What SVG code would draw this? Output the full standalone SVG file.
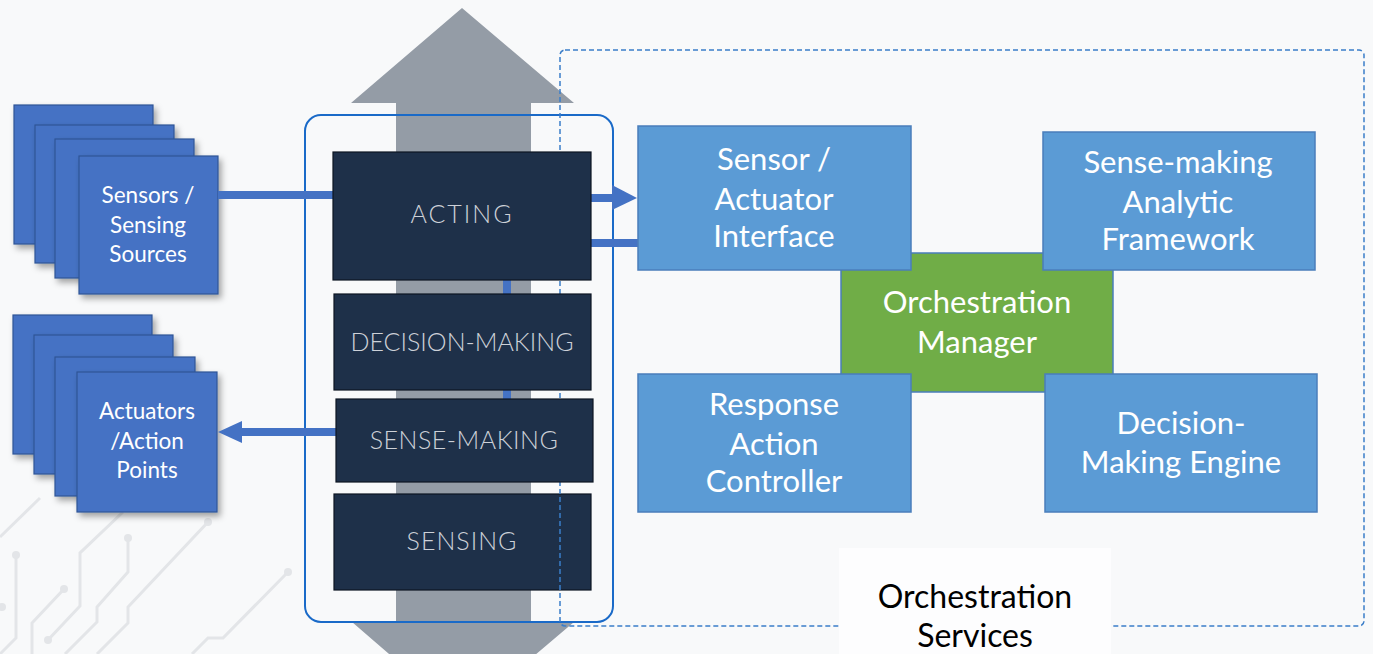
<svg xmlns="http://www.w3.org/2000/svg" width="1373" height="654" viewBox="0 0 1373 654">
<defs>
<style>
.bg{fill:#f8f9fa}
.trace{fill:none;stroke:#e3e5e8;stroke-width:3}
.dot{fill:#e3e5e8}
.stack{fill:#4472c4;stroke:#2f5597;stroke-width:1.2;filter:url(#sh)}
.wt{font-family:Lato,"Noto Sans",sans-serif;fill:#ffffff;text-anchor:middle}
.dark{fill:#1e3049;stroke:#0d1522;stroke-width:1.2}
.dt{font-family:Lato,"Noto Sans",sans-serif;font-weight:300;fill:#cdd1d8;font-size:25px;text-anchor:middle}
.lb{fill:#5b9bd5;stroke:#4a7ebb;stroke-width:1.5}
.gr{fill:#70ad47;stroke:#4a7ebb;stroke-width:1.5}
.bt{font-family:Lato,"Noto Sans",sans-serif;fill:#ffffff;font-size:31px;text-anchor:middle}
.conn{stroke:#4472c4;stroke-width:8;fill:none}
.head{fill:#4472c4}
</style>
<filter id="sh" x="-10%" y="-10%" width="130%" height="130%">
<feDropShadow dx="3" dy="4" stdDeviation="3" flood-color="#000" flood-opacity="0.35"/>
</filter>
</defs>
<rect class="bg" x="0" y="0" width="1373" height="654"/>
<g id="circuit-traces">
<path class="trace" d="M0 537 L40 498"/>
<path class="trace" d="M16 555 L16 638 L0 654"/>
<circle class="dot" cx="16" cy="555" r="4"/>
<circle class="dot" cx="2" cy="607" r="4"/>
<path class="trace" d="M64 589 L32 623 L32 654"/>
<circle class="dot" cx="64" cy="589" r="4"/>
<path class="trace" d="M123 512 L80 553 L80 606 L48 640"/>
<circle class="dot" cx="48" cy="640" r="4"/>
<path class="trace" d="M128 538 L128 572 L97 607 L97 622 L65 654"/>
<circle class="dot" cx="128" cy="538" r="4"/>
<path class="trace" d="M208 522 L128 607 L128 623 L97 654"/>
<circle class="dot" cx="208" cy="522" r="4"/>
<path class="trace" d="M288 572 L223 638 L208 638 L192 654"/>
<circle class="dot" cx="288" cy="572" r="4"/>
</g>
<g id="big-arrow">
<polygon fill="#949ca6" points="462,8 574,103 531,103 531,622 574,622 462,717 352,622 396,622 396,103 351,103"/>
</g>
<g id="layer-frame">
<rect x="305" y="115" width="308" height="507" rx="16" ry="16" fill="none" stroke="#1a6ac8" stroke-width="2"/>
</g>
<g id="sensors">
<rect class="stack" x="14" y="105" width="139" height="139"/>
<rect class="stack" x="35" y="125" width="139" height="138"/>
<rect class="stack" x="55" y="139" width="139" height="139"/>
<rect class="stack" x="79" y="156" width="139" height="138"/>
<text class="wt" font-size="22.5"><tspan x="148" y="203">Sensors /</tspan><tspan x="148" y="233">Sensing</tspan><tspan x="148" y="262">Sources</tspan></text>
</g>
<g id="actuators">
<rect class="stack" x="13" y="315" width="139" height="139"/>
<rect class="stack" x="34" y="335" width="139" height="139"/>
<rect class="stack" x="55" y="357" width="140" height="139"/>
<rect class="stack" x="77" y="372" width="140" height="140"/>
<text class="wt" font-size="22.5"><tspan x="147" y="419">Actuators</tspan><tspan x="147" y="449">/Action</tspan><tspan x="147" y="478">Points</tspan></text>
</g>
<g id="connectors">
<line class="conn" x1="507" y1="278" x2="507" y2="401"/>
<line class="conn" x1="218" y1="195" x2="334" y2="195"/>
<line class="conn" x1="336" y1="432" x2="240" y2="432"/>
<polygon class="head" points="218,432 242,421 242,443"/>
<line class="conn" x1="591" y1="198" x2="614" y2="198"/>
<polygon class="head" points="637,198 612,185 612,210"/>
<line class="conn" x1="591" y1="243" x2="639" y2="243"/>
</g>
<g id="sensing">
<rect class="dark" x="334" y="494" width="257" height="96"/>
<text class="dt" x="462" y="550" font-size="26" letter-spacing="1">SENSING</text>
</g>
<g id="orchestration-services">
<rect x="560" y="50" width="804" height="576" rx="5" ry="5" fill="none" stroke="#3a7dc9" stroke-width="1.5" stroke-dasharray="5,3"/>
<rect x="839" y="548" width="272" height="106" fill="#fdfdfe"/>
<text font-family="Lato,'Noto Sans',sans-serif" font-size="32" fill="#000" text-anchor="middle"><tspan x="975" y="608">Orchestration</tspan><tspan x="975" y="647">Services</tspan></text>
</g>
<g id="acting">
<rect class="dark" x="333" y="152" width="258" height="128"/>
<text class="dt" x="462" y="223" font-size="26" letter-spacing="2">ACTING</text>
</g>
<g id="decision-making">
<rect class="dark" x="334" y="294" width="257" height="96"/>
<text class="dt" x="462" y="351">DECISION-MAKING</text>
</g>
<g id="sense-making">
<rect class="dark" x="336" y="399" width="257" height="83"/>
<text class="dt" x="464" y="449" font-size="26" letter-spacing="0.5">SENSE-MAKING</text>
</g>
<g id="orchestration-manager">
<rect class="gr" x="841" y="253" width="272" height="139"/>
<text class="bt"><tspan x="977" y="313">Orchestration</tspan><tspan x="977" y="353">Manager</tspan></text>
</g>
<g id="sensor-actuator-interface">
<rect class="lb" x="638" y="126" width="273" height="144"/>
<text class="bt"><tspan x="774" y="170">Sensor /</tspan><tspan x="774" y="210">Actuator</tspan><tspan x="774" y="247">Interface</tspan></text>
</g>
<g id="sense-making-framework">
<rect class="lb" x="1043" y="132" width="272" height="138"/>
<text class="bt"><tspan x="1178" y="173">Sense-making</tspan><tspan x="1178" y="213">Analytic</tspan><tspan x="1178" y="250">Framework</tspan></text>
</g>
<g id="response-action-controller">
<rect class="lb" x="638" y="374" width="273" height="138"/>
<text class="bt"><tspan x="774" y="415">Response</tspan><tspan x="774" y="455">Action</tspan><tspan x="774" y="492">Controller</tspan></text>
</g>
<g id="decision-making-engine">
<rect class="lb" x="1045" y="374" width="272" height="138"/>
<text class="bt"><tspan x="1181" y="434">Decision-</tspan><tspan x="1181" y="473">Making Engine</tspan></text>
</g>
</svg>
